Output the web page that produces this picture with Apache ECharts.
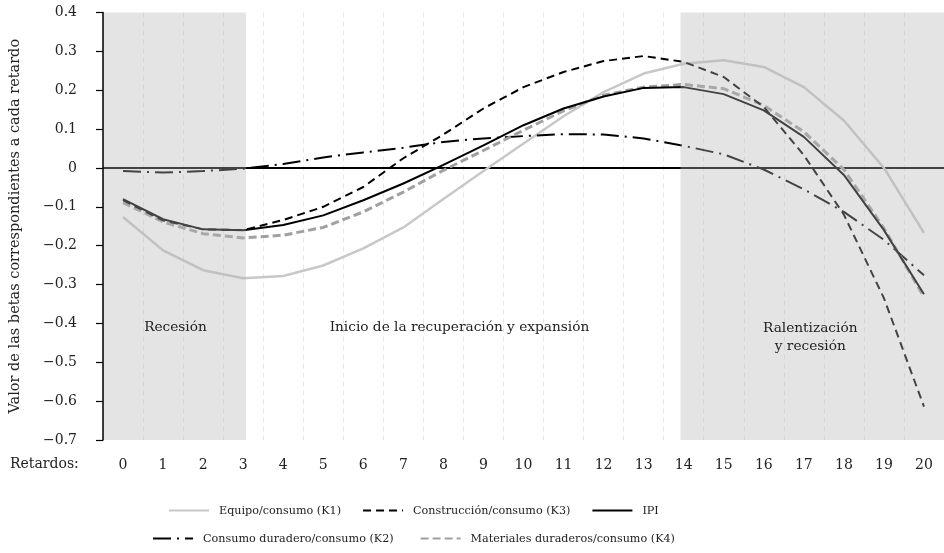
<!DOCTYPE html>
<html>
<head>
<meta charset="utf-8">
<script src="https://cdn.jsdelivr.net/npm/echarts@6/dist/echarts.min.js"></script>
<style>
  html, body { margin: 0; padding: 0; background: #fff; }
  #main { width: 944px; height: 553px; }
</style>
</head>
<body>
<div id="main"></div>
<script>
// retardos (lags)
const lags = ['0', '1', '2', '3', '4', '5', '6', '7', '8', '9', '10',
              '11', '12', '13', '14', '15', '16', '17', '18', '19', '20'];

// betas
const k1 = [-0.126, -0.212, -0.263, -0.284, -0.278, -0.251, -0.207, -0.153, -0.080, -0.008, 0.063,
            0.133, 0.195, 0.243, 0.268, 0.277, 0.260, 0.208, 0.122, 0.000, -0.167];
const k3 = [-0.083, -0.135, -0.158, -0.160, -0.134, -0.100, -0.049, 0.025, 0.086, 0.153, 0.208,
            0.247, 0.275, 0.288, 0.273, 0.234, 0.157, 0.033, -0.120, -0.335, -0.614];
const ipi = [-0.080, -0.132, -0.158, -0.160, -0.147, -0.122, -0.083, -0.040, 0.008, 0.058, 0.110,
             0.153, 0.184, 0.206, 0.208, 0.190, 0.148, 0.080, -0.018, -0.160, -0.325];
const k2 = [-0.008, -0.012, -0.008, -0.002, 0.010, 0.027, 0.040, 0.052, 0.067, 0.076, 0.082,
            0.087, 0.086, 0.076, 0.057, 0.035, -0.004, -0.055, -0.113, -0.185, -0.276];
const k4 = [-0.089, -0.139, -0.169, -0.180, -0.173, -0.153, -0.113, -0.062, -0.006, 0.045, 0.097,
            0.147, 0.187, 0.208, 0.215, 0.204, 0.161, 0.093, -0.004, -0.155, -0.332];

// phases: [from, to] in lag units, and their labels
const phases = [[-0.5, 3.07], [13.92, 20.5]];
const phaseLabels = [
  { text: 'Recesión', at: [1.31, -0.41] },
  { text: 'Inicio de la recuperación y expansión', at: [8.4, -0.41] },
  { text: 'Ralentización\ny recesión', at: [17.16, -0.436] }
];

const font = 'DejaVu Serif';
const txt = '#222';

var chart = echarts.init(document.getElementById('main'));

function line(name, data, color, width, type, z) {
  return {
    name: name,
    type: 'line',
    data: data,
    symbol: 'none',
    z: z || 2,
    lineStyle: { color: color, width: width, type: type },
    itemStyle: { color: color }
  };
}

let ipiSeries = line('IPI', ipi, '#000', 2, 'solid', 3);
ipiSeries.markLine = {
  silent: true,
  symbol: 'none',
  z: 1,
  label: { show: false },
  lineStyle: { color: '#000', width: 2, type: 'solid' },
  data: [{ yAxis: 0 }]
};

let legendBase = {
  itemWidth: 40, itemHeight: 14, padding: 0,
  itemStyle: { opacity: 0 },
  textStyle: { color: txt, fontSize: 11.2, fontFamily: font, padding: [0, 0, 0, 5] }
};

var option = {
  animation: false,
  backgroundColor: '#fff',
  textStyle: { fontFamily: font },
  grid: { left: 101, right: -3, top: 12.5, bottom: 113 },
  xAxis: [
    {
      type: 'category',
      data: lags,
      boundaryGap: true,
      axisLine: { show: false },
      axisTick: { show: false },
      axisLabel: { color: txt, fontSize: 14, fontFamily: font, margin: 18 },
      splitLine: { show: true, interval: 0, lineStyle: { color: '#e6e6e6', type: [5, 4], width: 1 } }
    },
    {
      type: 'value',
      min: -0.5,
      max: 20.5,
      show: false
    }
  ],
  yAxis: {
    type: 'value',
    min: -0.7,
    max: 0.4,
    interval: 0.1,
    z: 10,
    name: 'Valor de las betas correspondientes a cada retardo',
    nameLocation: 'middle',
    nameGap: 80,
    nameRotate: 90,
    nameTextStyle: { color: txt, fontSize: 14.5, fontFamily: font },
    axisLine: { show: true, onZero: false, lineStyle: { color: '#000', width: 1.5 } },
    axisTick: { show: true, length: 7, lineStyle: { color: '#000', width: 1.2 } },
    axisLabel: {
      color: txt, fontSize: 14, fontFamily: font, margin: 26,
      formatter: v => Math.abs(v) < 1e-9 ? '0' : (v < 0 ? '\u2212' : '') + Math.abs(v).toFixed(1)
    },
    splitLine: { show: false }
  },
  legend: [
    Object.assign({
      data: ['Equipo/consumo (K1)', 'Construcción/consumo (K3)', 'IPI'],
      left: 168, top: 505, itemGap: 21
    }, legendBase),
    Object.assign({
      data: ['Consumo duradero/consumo (K2)', 'Materiales duraderos/consumo (K4)'],
      left: 152, top: 533, itemGap: 26
    }, legendBase)
  ],
  graphic: [
    {
      type: 'text', left: 10, top: 457,
      style: { text: 'Retardos:', fill: txt, font: '14px "DejaVu Serif"' }
    }
  ],
  series: [
    line('Equipo/consumo (K1)', k1, '#c8c8c8', 2.5, 'solid'),
    line('Consumo duradero/consumo (K2)', k2, '#000', 2, [18, 6, 2, 6]),
    line('Materiales duraderos/consumo (K4)', k4, '#a0a0a0', 3, [8, 4]),
    line('Construcción/consumo (K3)', k3, '#000', 2, [8, 5]),
    ipiSeries,
    {
      name: 'fases',
      type: 'line',
      xAxisIndex: 1,
      data: [],
      z: 6,
      silent: true,
      markArea: {
        z: 6,
        silent: true,
        itemStyle: { color: 'rgba(182,182,182,0.37)' },
        data: phases.map(p => [{ xAxis: p[0], yAxis: 0.4 }, { xAxis: p[1], yAxis: -0.7 }])
      },
      markPoint: {
        z: 7,
        silent: true,
        symbol: 'circle',
        symbolSize: 0,
        label: {
          show: true, position: 'inside', color: txt, fontSize: 13.7, fontFamily: font,
          lineHeight: 18, formatter: p => p.name
        },
        data: phaseLabels.map(l => ({ name: l.text, coord: l.at }))
      }
    }
  ]
};

chart.setOption(option);
</script>
</body>
</html>
